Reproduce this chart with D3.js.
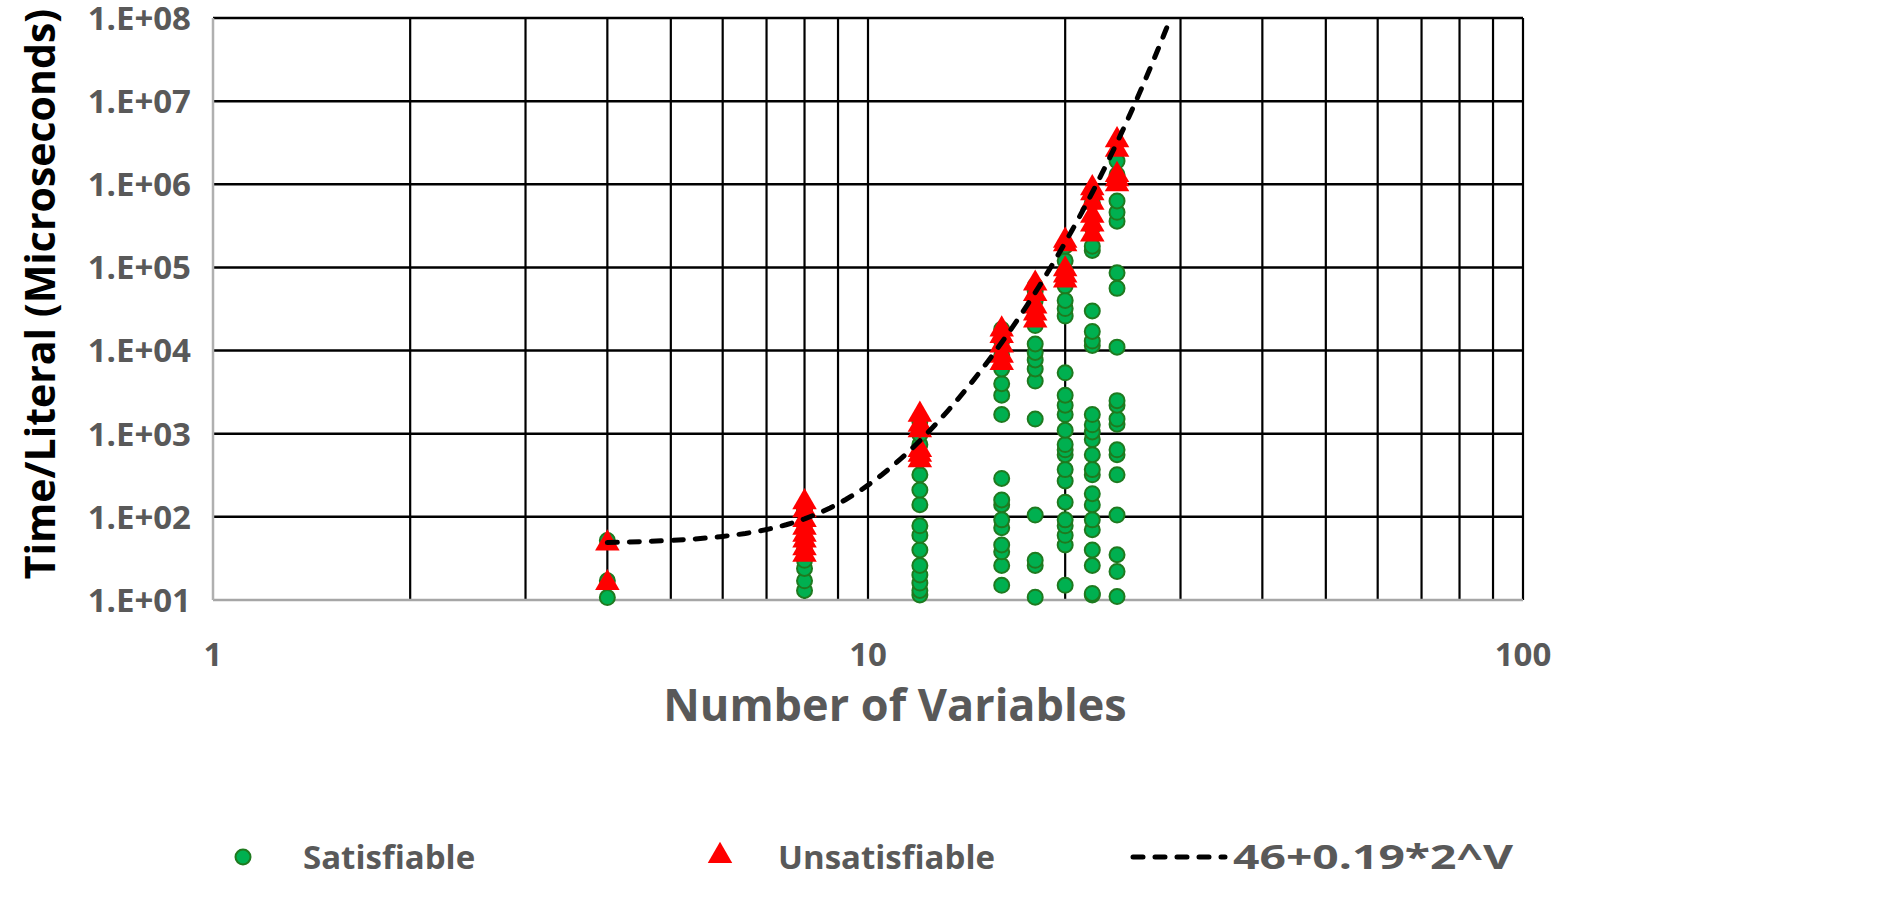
<!DOCTYPE html>
<html>
<head>
<meta charset="utf-8">
<script src="https://cdn.jsdelivr.net/npm/d3@7"></script>
<style>
  body { margin: 0; background: #fff; }
  text { font-family: "Open Sans", "Noto Sans", sans-serif; font-weight: bold; }
</style>
</head>
<body>
<div class="chartBox"></div>
<script>
// number of variables for each column of runs
var variables = [4, 8, 12, 16, 18, 20, 22, 24];

// time per literal (microseconds), satisfiable runs, one list per column
var satValues = [
  [10.7, 17, 52],
  [13, 17, 24, 30, 40, 52, 80, 120],
  [11.5, 13, 16, 20, 26, 40, 60, 78, 140, 210, 320, 480, 740, 980, 1400],
  [15, 26, 38, 46, 74, 92, 140, 160, 290, 1700, 2900, 4000, 6000, 8700, 13000, 18000],
  [10.8, 26, 30, 105, 1500, 4300, 6000, 7700, 9500, 12000, 20000, 30000, 40000, 52000, 60000],
  [15, 46, 60, 78, 92, 150, 270, 370, 560, 640, 740, 1100, 1700, 2200, 2900, 5400, 26000, 32000, 40000, 60000, 90000, 120000, 180000],
  [11.5, 12, 26, 40, 70, 92, 140, 190, 320, 370, 560, 850, 1050, 1280, 1700, 11500, 13000, 17000, 30000, 160000, 180000, 300000, 600000, 800000],
  [11, 22, 35, 105, 320, 560, 640, 1300, 1500, 2200, 2500, 11000, 56000, 86000, 360000, 460000, 630000, 1300000, 1900000]
];

// unsatisfiable runs
var unsatValues = [
  [16, 48],
  [35, 42, 52, 61, 74, 92, 120, 150],
  [480, 560, 640, 1100, 1280, 1700],
  [7100, 8700, 11500, 15000, 18000],
  [23000, 28000, 34000, 48000, 64000],
  [70000, 80000, 95000, 190000, 210000],
  [250000, 330000, 420000, 600000, 780000, 900000],
  [1000000, 1150000, 1300000, 2600000, 3400000]
];

// trend line from the legend: 46 + 0.19 * 2^V
var trendA = 46, trendB = 0.19;
var trendV = d3.range(4, 29.01, 0.25);

var xTicks = [1, 10, 100];
var yTicks = [1e1, 1e2, 1e3, 1e4, 1e5, 1e6, 1e7, 1e8];
var yTickLabels = ['1.E+01', '1.E+02', '1.E+03', '1.E+04', '1.E+05', '1.E+06', '1.E+07', '1.E+08'];

var w = 1878, h = 915;
var mLeft = 213, mRight = 1523, mTop = 18, mBottom = 600;

var svg = d3.select('.chartBox')
  .append('svg')
  .attr('width', w)
  .attr('height', h);

var x = d3.scaleLog().domain([1, 100]).range([mLeft, mRight]);
var y = d3.scaleLog().domain([10, 1e8]).range([mBottom, mTop]);

// vertical grid: 2..9, 10, 20..90, 100
var gridX = [];
[1, 10].forEach(function(d){
  for (var k = 2; k <= 9; k++) gridX.push(d * k);
});
gridX.push(10, 100);

svg.append('defs').append('clipPath').attr('id', 'plotClip')
  .append('rect')
  .attr('x', mLeft).attr('y', mTop)
  .attr('width', mRight - mLeft).attr('height', mBottom - mTop);

var grid = svg.append('g');
grid.selectAll('line.v')
  .data(gridX)
  .enter()
  .append('line')
  .attr('x1', function(d){ return x(d); })
  .attr('x2', function(d){ return x(d); })
  .attr('y1', mTop)
  .attr('y2', mBottom)
  .attr('stroke', '#000')
  .attr('stroke-width', 2.2);

grid.selectAll('line.h')
  .data(yTicks)
  .enter()
  .append('line')
  .attr('x1', mLeft)
  .attr('x2', mRight)
  .attr('y1', function(d){ return y(d); })
  .attr('y2', function(d){ return y(d); })
  .attr('stroke', function(d){ return d === 10 ? '#a6a6a6' : '#000'; })
  .attr('stroke-width', 2.5);

// left axis line
svg.append('line')
  .attr('x1', mLeft).attr('x2', mLeft)
  .attr('y1', mTop).attr('y2', mBottom)
  .attr('stroke', '#b0b0b0')
  .attr('stroke-width', 2.5);

// y tick labels
svg.selectAll('text.ytick')
  .data(yTicks)
  .enter()
  .append('text')
  .attr('x', 191)
  .attr('y', function(d){ return y(d); })
  .attr('dy', '0.36em')
  .attr('text-anchor', 'end')
  .attr('fill', '#595959')
  .attr('font-size', 33)
  .text(function(d, i){ return yTickLabels[i]; });

// x tick labels
svg.selectAll('text.xtick')
  .data(xTicks)
  .enter()
  .append('text')
  .attr('x', function(d){ return x(d); })
  .attr('y', 666)
  .attr('text-anchor', 'middle')
  .attr('fill', '#595959')
  .attr('font-size', 33)
  .text(function(d){ return d; });

// axis titles
svg.append('text')
  .attr('x', 895)
  .attr('y', 721)
  .attr('text-anchor', 'middle')
  .attr('fill', '#595959')
  .attr('font-size', 45)
  .text('Number of Variables');

svg.append('text')
  .attr('transform', 'translate(55,294) rotate(-90)')
  .attr('text-anchor', 'middle')
  .attr('fill', '#000')
  .attr('font-size', 41)
  .text('Time/Literal (Microseconds)');

// flatten points
var satPts = [], unsatPts = [];
variables.forEach(function(v, i){
  satValues[i].forEach(function(t){ satPts.push({v: v, t: t}); });
  unsatValues[i].forEach(function(t){ unsatPts.push({v: v, t: t}); });
});

var tri = d3.symbol().type(d3.symbolTriangle).size(260);

svg.selectAll('circle.sat')
  .data(satPts)
  .enter()
  .append('circle')
  .attr('cx', function(d){ return x(d.v); })
  .attr('cy', function(d){ return y(d.t); })
  .attr('r', 7.5)
  .attr('fill', '#00b050')
  .attr('stroke', '#1f7a1f')
  .attr('stroke-width', 2);

svg.selectAll('path.unsat')
  .data(unsatPts)
  .enter()
  .append('path')
  .attr('d', tri)
  .attr('transform', function(d){ return 'translate(' + x(d.v) + ',' + y(d.t) + ')'; })
  .attr('fill', '#ff0000');

// trend line
var trendLine = d3.line()
  .x(function(d){ return x(d); })
  .y(function(d){ return y(trendA + trendB * Math.pow(2, d)); });

svg.append('path')
  .datum(trendV)
  .attr('clip-path', 'url(#plotClip)')
  .attr('d', trendLine)
  .attr('fill', 'none')
  .attr('stroke', '#000')
  .attr('stroke-width', 5)
  .attr('stroke-linecap', 'round')
  .attr('stroke-dasharray', '10,12');

// legend
var ly = 857;
svg.append('circle')
  .attr('cx', 243).attr('cy', ly)
  .attr('r', 7.5)
  .attr('fill', '#00b050')
  .attr('stroke', '#1f7a1f')
  .attr('stroke-width', 2);
svg.append('text')
  .attr('x', 303).attr('y', ly).attr('dy', '0.36em')
  .attr('fill', '#595959').attr('font-size', 33)
  .text('Satisfiable');

svg.append('path')
  .attr('d', tri)
  .attr('transform', 'translate(720,' + (ly - 1) + ')')
  .attr('fill', '#ff0000');
svg.append('text')
  .attr('x', 778).attr('y', ly).attr('dy', '0.36em')
  .attr('fill', '#595959').attr('font-size', 33)
  .text('Unsatisfiable');

svg.append('line')
  .attr('x1', 1133).attr('x2', 1225)
  .attr('y1', ly).attr('y2', ly)
  .attr('stroke', '#000')
  .attr('stroke-width', 5)
  .attr('stroke-linecap', 'round')
  .attr('stroke-dasharray', '10,12');
svg.append('text')
  .attr('x', 1233).attr('y', ly).attr('dy', '0.36em')
  .attr('fill', '#595959').attr('font-size', 34)
  .attr('textLength', 280)
  .attr('lengthAdjust', 'spacingAndGlyphs')
  .text('46+0.19*2^V');
</script>
</body>
</html>
